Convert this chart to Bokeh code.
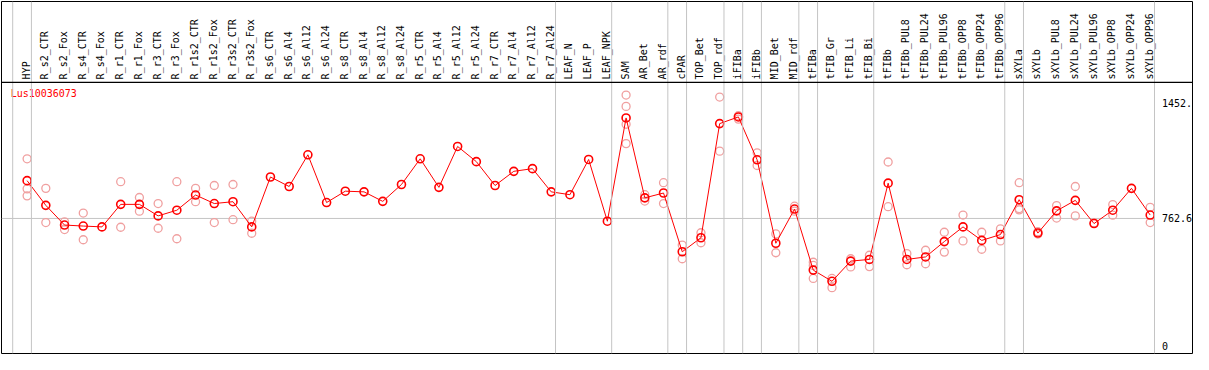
import math
from bokeh.plotting import figure
from bokeh.models import Span, Range1d
from bokeh.core.properties import value
from bokeh.embed import file_html
from bokeh.resources import INLINE

gene = "Lus10036073"

samples = [
    "HYP", "R_s2_CTR", "R_s2_Fox", "R_s4_CTR", "R_s4_Fox", "R_r1_CTR", "R_r1_Fox",
    "R_r3_CTR", "R_r3_Fox", "R_r1s2_CTR", "R_r1s2_Fox", "R_r3s2_CTR", "R_r3s2_Fox",
    "R_s6_CTR", "R_s6_Al4", "R_s6_Al12", "R_s6_Al24", "R_s8_CTR", "R_s8_Al4",
    "R_s8_Al12", "R_s8_Al24", "R_r5_CTR", "R_r5_Al4", "R_r5_Al12", "R_r5_Al24",
    "R_r7_CTR", "R_r7_Al4", "R_r7_Al12", "R_r7_Al24", "LEAF_N", "LEAF_P", "LEAF_NPK",
    "SAM", "AR_Bet", "AR_rdf", "cPAR", "TOP_Bet", "TOP_rdf", "iFIBa", "iFIBb",
    "MID_Bet", "MID_rdf", "tFIBa", "tFIB_Gr", "tFIB_Li", "tFIB_Bi", "tFIBb",
    "tFIBb_PUL8", "tFIBb_PUL24", "tFIBb_PUL96", "tFIBb_OPP8", "tFIBb_OPP24",
    "tFIBb_OPP96", "sXYLa", "sXYLb", "sXYLb_PUL8", "sXYLb_PUL24", "sXYLb_PUL96",
    "sXYLb_OPP8", "sXYLb_OPP24", "sXYLb_OPP96",
]

means = [
    989, 841, 723, 717, 712, 847, 847, 778, 812, 903, 852, 863, 712,
    1011, 954, 1144, 858, 926, 922, 865, 966, 1120, 949, 1194, 1103,
    960, 1045, 1061, 922, 905, 1116, 746,
    1365, 886, 915, 563, 647, 1331, 1371, 1114, 614, 819,
    453, 386, 507, 517, 974, 517, 532, 624, 712, 631, 666,
    875, 675, 808, 871, 732, 812, 943, 783,
]

replicates = [
    [1120, 940, 898], [943, 738], [742, 696], [795, 635], [], [983, 710], [888, 806],
    [852, 704], [983, 641], [943, 863], [960, 738], [966, 755], [746, 674],
    [], [], [], [], [], [], [], [], [], [], [], [], [], [], [], [], [], [], [],
    [1502, 1434, 1327, 1211], [905, 867], [977, 852], [603, 521], [677, 617],
    [1490, 1166], [1378, 1358], [1156, 1080], [670, 557], [836, 806],
    [500, 481, 403], [403, 348], [521, 472], [542, 474], [1101, 833], [552, 485],
    [572, 491], [680, 561], [783, 628], [680, 578], [700, 628],
    [977, 822, 814], [683, 669], [840, 765], [954, 778], [736], [846, 782], [], [829, 738],
]

# sample index after which a group separator is drawn
group_ends = [0, 1, 29, 32, 35, 36, 38, 39, 40, 42, 43, 46, 53, 54, 61]

tick_values = [0, 762.6, 1452]
tick_labels = ["0", "762.6", "1452."]

# ---------------------------------------------------------------- layout
X0, X1 = -0.368, 63.26
Y0, Y1 = -46.7, 2062.7
SEP_OFF = 0.23
HEADER_Y = 1578
LABEL_Y = 1596
MONO = value("DejaVu Sans Mono")

idx = list(range(1, len(samples) + 1))

p = figure(width=1193, height=354, output_backend="svg", toolbar_location=None,
           x_range=Range1d(X0, X1), y_range=Range1d(Y0, Y1),
           x_axis_type=None, y_axis_type=None, min_border=1)
p.grid.visible = False
p.outline_line_color = "black"
p.outline_line_width = 1
p.background_fill_color = "white"
p.border_fill_color = "white"

for g in group_ends:
    p.add_layout(Span(location=g + SEP_OFF, dimension="height",
                      line_color="#c4c4c4", line_width=1))

# header separator
p.add_layout(Span(location=HEADER_Y, dimension="width", line_color="black", line_width=1.2))
p.segment(x0=[group_ends[-1] + SEP_OFF], y0=[HEADER_Y], x1=[group_ends[-1] + SEP_OFF], y1=[Y1],
          line_color="#555555", line_width=1)

# reference line at middle tick
p.segment(x0=[X0], y0=[tick_values[1]], x1=[group_ends[-1] + SEP_OFF], y1=[tick_values[1]],
          line_color="#c4c4c4", line_width=1)

# sample labels
p.text(x=idx, y=[LABEL_Y] * len(idx), text=samples, angle=math.pi / 2,
       text_align="left", text_baseline="middle", x_offset=-1,
       text_font=MONO, text_font_size="10px", text_color="black")

# replicates
rep_x = [i for i, reps in zip(idx, replicates) for _ in reps]
rep_y = [v for reps in replicates for v in reps]
p.scatter(rep_x, rep_y, marker="circle", size=8, fill_color=None,
          line_color="#f0a0a0", line_width=1.3)

# mean line and points
p.line(idx, means, line_color="red", line_width=1)
p.scatter(idx, means, marker="circle", size=8, fill_color=None,
          line_color="red", line_width=1.6)

# gene name
p.text(x=[0.12], y=[1511], text=[gene], text_align="left", text_baseline="middle",
       text_font=MONO, text_font_size="10px", text_color="red")

# value labels on the right
p.text(x=[61.63] * len(tick_values), y=tick_values, text=tick_labels,
       text_align="left", text_baseline="middle",
       text_font=MONO, text_font_size="10px", text_color="black")

open("out.html", "w").write(file_html(p, INLINE))
